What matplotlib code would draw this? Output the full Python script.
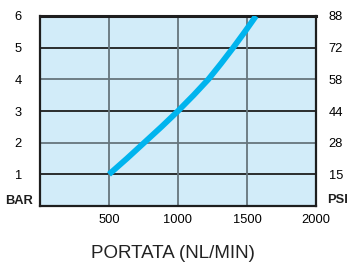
import matplotlib
matplotlib.use("Agg")
import matplotlib.pyplot as plt

# values
flow = [500, 630, 755, 880, 1000, 1113, 1220, 1312, 1400, 1484, 1565]
bar = [1, 1.5, 2, 2.5, 3, 3.5, 4, 4.5, 5, 5.5, 6]

bar_ticks = [1, 2, 3, 4, 5, 6]
psi_labels = ["15", "28", "44", "58", "72", "88"]
flow_ticks = [500, 1000, 1500, 2000]

tick_font = ["Liberation Sans", "DejaVu Sans"]
fs = 9.3

fig = plt.figure(figsize=(3.47, 2.67), dpi=100)
ax = fig.add_axes([40 / 347, 1 - 206 / 267, 276 / 347, 190 / 267])
ax.set_facecolor("#d2ecf9")
ax.set_xlim(0, 2000)
ax.set_ylim(0, 6)

# grid: alternating dark / grey horizontals, grey verticals
for y in bar_ticks:
    col = "#1e1e1e" if y % 2 == 1 else "#66757c"
    ax.axhline(y, color=col, lw=1.3, zorder=1)
for x in flow_ticks[:-1]:
    ax.axvline(x, color="#66757c", lw=1.3, zorder=1)

ax.plot(flow, bar, color="#00b4ee", lw=4.2, solid_capstyle="butt", zorder=3)

for s in ax.spines.values():
    s.set_color("#1e1e1e")
    s.set_linewidth(1.6)
ax.spines["top"].set_linewidth(2.2)

ax.set_xticks(flow_ticks)
ax.set_xticklabels([str(v) for v in flow_ticks], family=tick_font, fontsize=fs)
ax.set_yticks(bar_ticks)
ax.set_yticklabels([str(v) for v in bar_ticks], family=tick_font, fontsize=fs)
ax.tick_params(length=0, pad=6)
ax.tick_params(axis="y", pad=13)

ax2 = ax.twinx()
ax2.set_ylim(0, 6)
ax2.set_yticks(bar_ticks)
ax2.set_yticklabels(psi_labels, family=tick_font, fontsize=fs)
ax2.tick_params(length=0, pad=9)
for s in ax2.spines.values():
    s.set_visible(False)

fig.text(33 / 347, 1 - 201 / 267, "BAR", ha="right", va="center",
         family=tick_font, fontsize=fs, fontweight="bold", color="#1e1e1e")
fig.text(327 / 347, 1 - 200 / 267, "PSI", ha="left", va="center",
         family=tick_font, fontsize=fs, fontweight="bold", color="#1e1e1e")

fig.text(173 / 347, 1 - 253 / 267, "PORTATA (NL/MIN)", ha="center", va="center",
         family=tick_font, fontsize=13.5, color="#222222")

fig.savefig("out.png", dpi=100)
